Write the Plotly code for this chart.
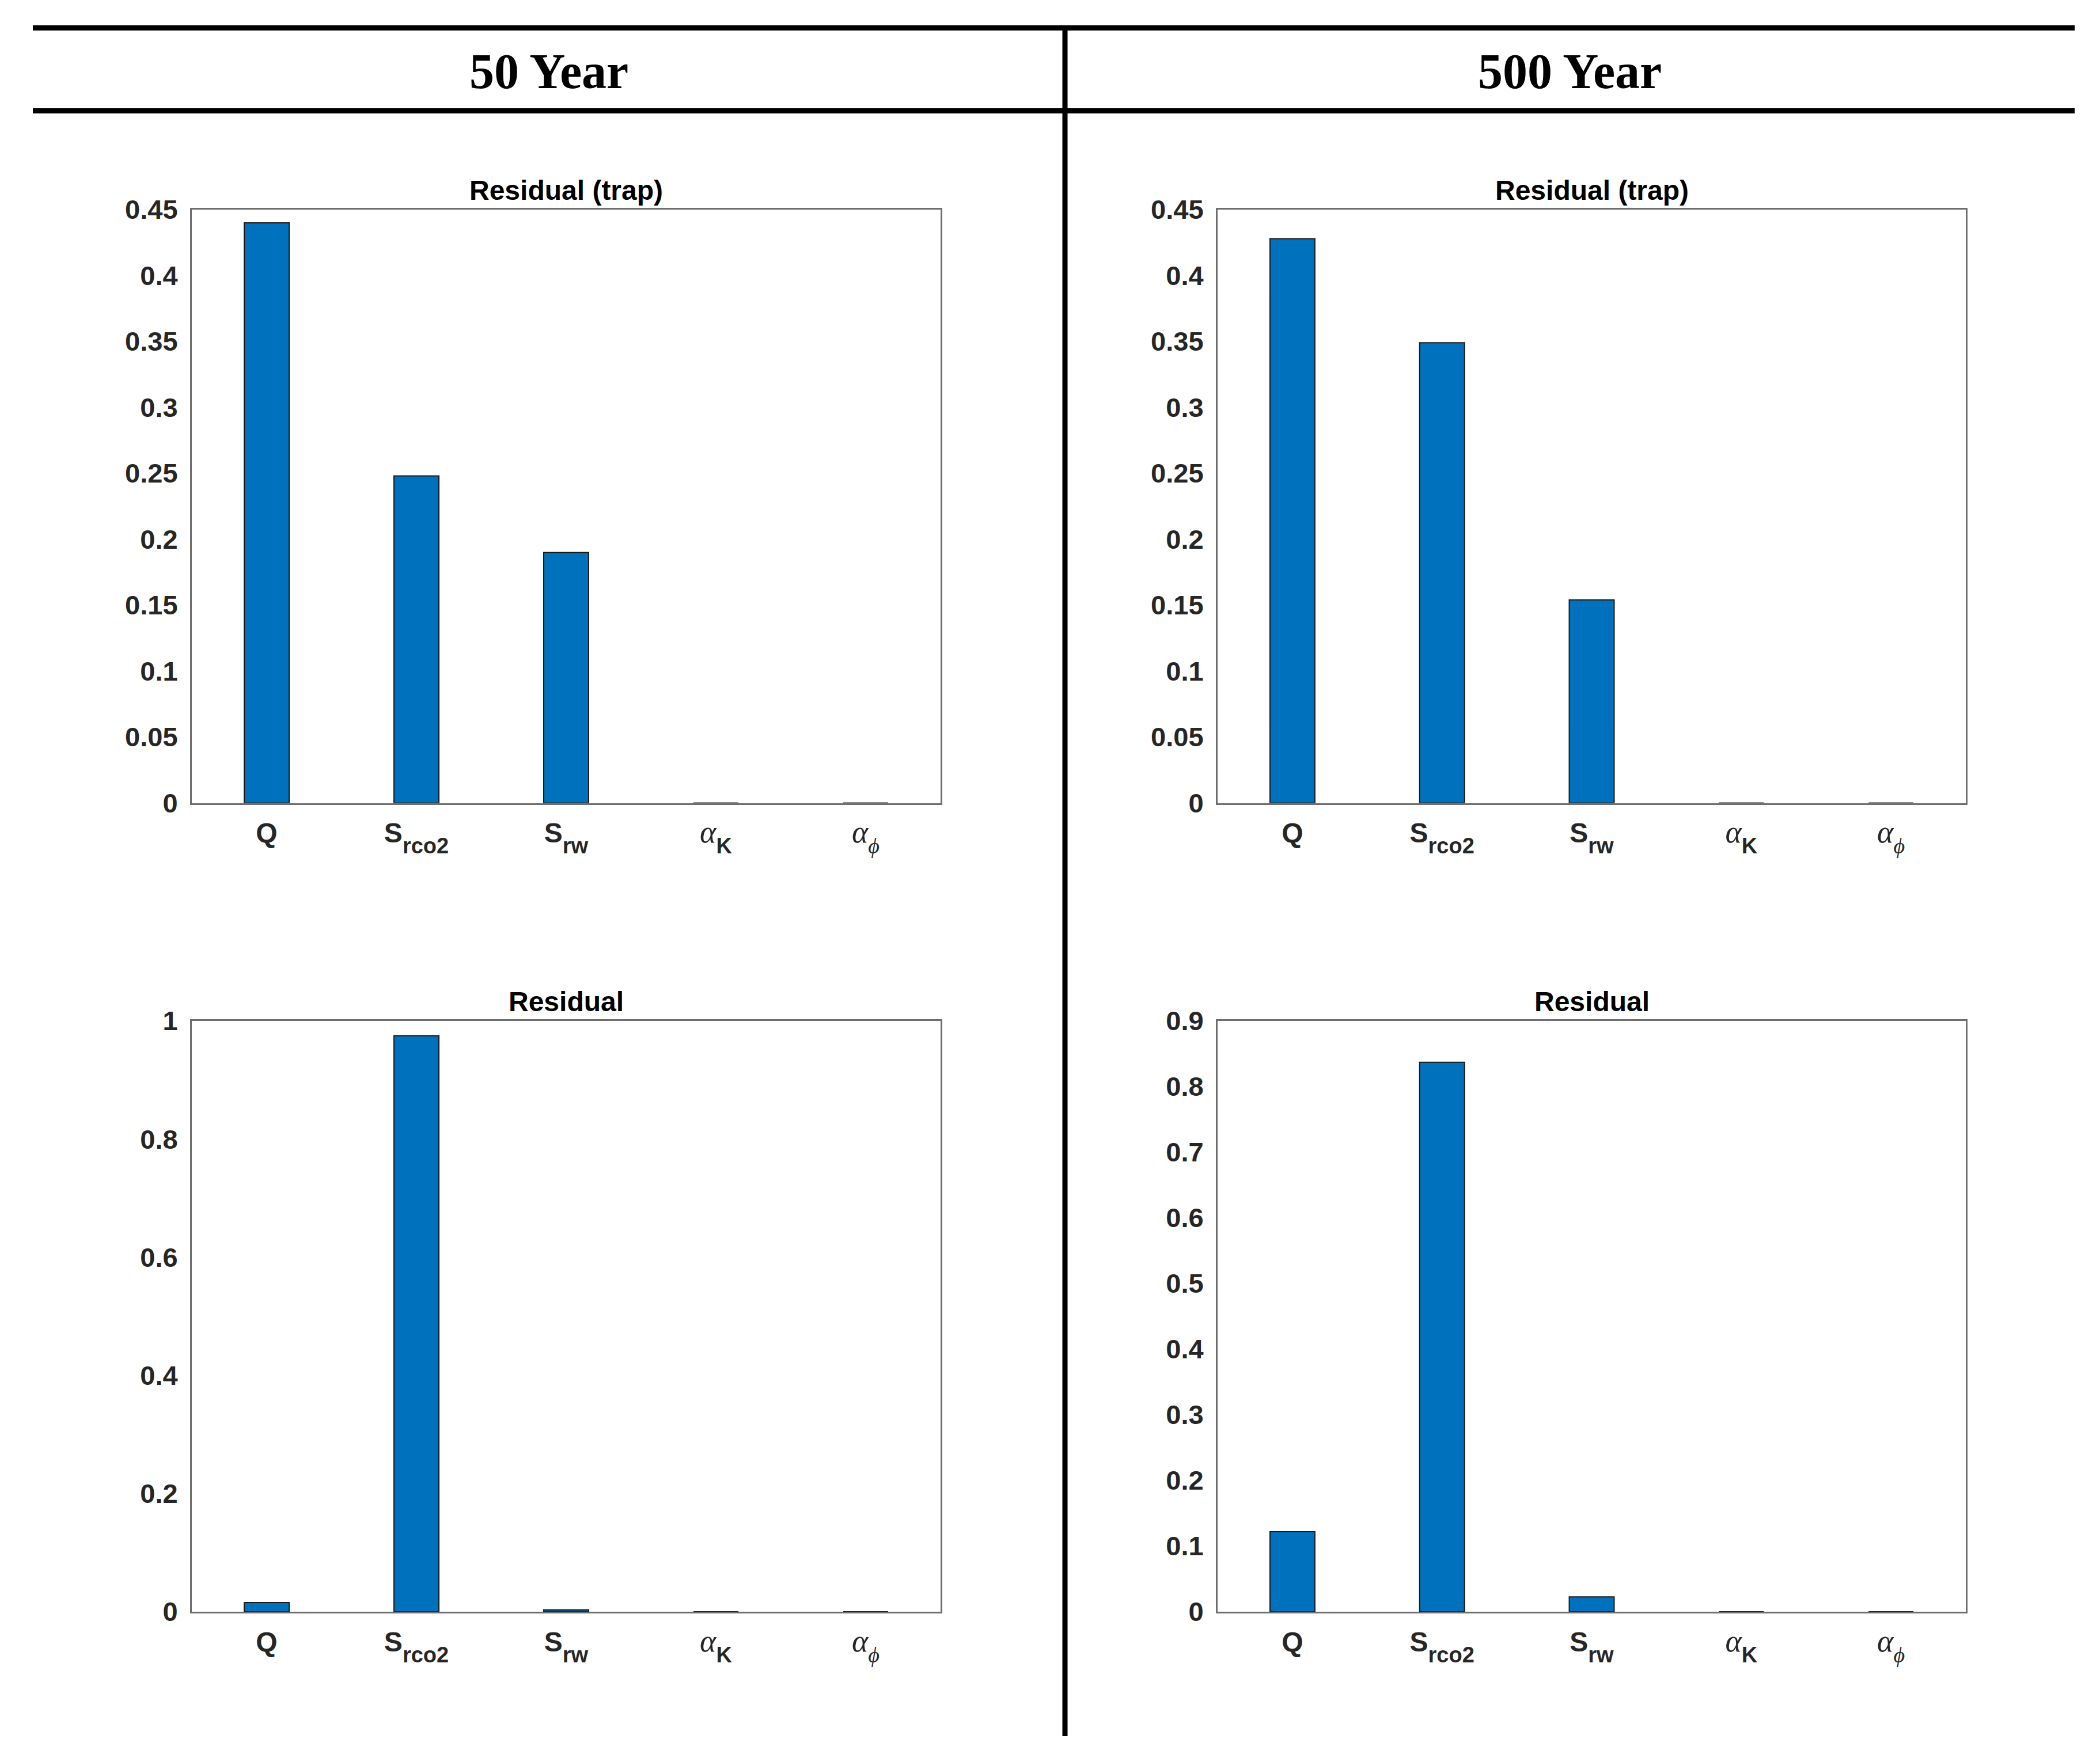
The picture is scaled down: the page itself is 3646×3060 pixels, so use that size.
import plotly.graph_objects as go

# ---------------- data ----------------
categories = ["Q", "S_rco2", "S_rw", "alpha_K", "alpha_phi"]
SERIF = "font-family:'Liberation Serif',serif"
ALPHA = "font-family:'Liberation Serif',serif;font-size:54px"
LOW = "baseline-shift:-9px;font-size:38px"
tick_labels = [
    "<b>Q</b>",
    f"<b>S<sub><span style=\"{LOW}\">rco2</span></sub></b>",
    f"<b>S<sub><span style=\"{LOW}\">rw</span></sub></b>",
    f"<span style=\"{ALPHA}\"><i>α</i></span><sub><span style=\"{LOW}\"><b>K</b></span></sub>",
    f"<span style=\"{ALPHA}\"><i>α</i></span><sub><span style=\"{SERIF};{LOW}\"><i>ϕ</i></span></sub>",
]

residual_trap_50yr = [0.44, 0.248, 0.19, 0.0, 0.0]
residual_trap_500yr = [0.428, 0.349, 0.154, 0.0, 0.0]
residual_50yr = [0.0156, 0.975, 0.0032, 0.0, 0.0]
residual_500yr = [0.122, 0.837, 0.0225, 0.0, 0.0]

column_titles = ["50 Year", "500 Year"]
panel_titles = ["Residual (trap)", "Residual (trap)", "Residual", "Residual"]

yticks_trap = [0, 0.05, 0.1, 0.15, 0.2, 0.25, 0.3, 0.35, 0.4, 0.45]
yticks_res50 = [0, 0.2, 0.4, 0.6, 0.8, 1]
yticks_res500 = [0, 0.1, 0.2, 0.3, 0.4, 0.5, 0.6, 0.7, 0.8, 0.9]

# ---------------- layout geometry ----------------
W, H = 3646, 3060
OFF = 8  # page body margin compensation
BAR_COLOR = "#0072BD"
FRAME = "#6e6e6e"
TXT = "#262626"
SANS = "Liberation Sans, Arial, sans-serif"


def px(x):
    return (x - OFF) / W


def py(y):
    return 1 - (y - OFF) / H


x_left = [px(333), px(1633)]
x_right = [px(2114), px(3413)]
y_top = [py(1394.5), py(364)]
y_bot = [py(2799), py(1773)]

panels = [
    (residual_trap_50yr, x_left, y_top, [0, 0.45], yticks_trap),
    (residual_trap_500yr, x_right, y_top, [0, 0.45], yticks_trap),
    (residual_50yr, x_left, y_bot, [0, 1], yticks_res50),
    (residual_500yr, x_right, y_bot, [0, 0.9], yticks_res500),
]


def fmt(v):
    s = f"{v:.2f}".rstrip("0").rstrip(".")
    return s if s else "0"


fig = go.Figure()
layout = dict(
    width=W,
    height=H,
    autosize=False,
    margin=dict(l=0, r=0, t=0, b=0, pad=0),
    paper_bgcolor="white",
    plot_bgcolor="white",
    showlegend=False,
    font=dict(family=SANS, color=TXT),
)

annotations = []
for i, (vals, xd, yd, yr, yt) in enumerate(panels, start=1):
    sfx = "" if i == 1 else str(i)
    fig.add_trace(
        go.Bar(
            x=list(range(len(categories))),
            y=vals,
            width=0.3,
            marker=dict(color=BAR_COLOR, line=dict(color="#1a1a1a", width=2)),
            xaxis="x" + sfx,
            yaxis="y" + sfx,
        )
    )
    layout["xaxis" + sfx] = dict(
        domain=xd,
        anchor="y" + sfx,
        range=[-0.5, len(categories) - 0.5],
        tickmode="array",
        tickvals=list(range(len(categories))),
        ticktext=tick_labels,
        tickfont=dict(size=48, color=TXT, family=SANS),
        ticks="",
        ticklabelstandoff=8,
        automargin=False,
        showline=True,
        linecolor=FRAME,
        linewidth=3,
        mirror=True,
        showgrid=False,
        zeroline=False,
        fixedrange=True,
    )
    layout["yaxis" + sfx] = dict(
        domain=yd,
        anchor="x" + sfx,
        range=yr,
        tickmode="array",
        tickvals=yt,
        ticktext=[fmt(v) for v in yt],
        tickfont=dict(size=47, color=TXT, weight="bold", family=SANS),
        ticks="",
        ticklabelstandoff=12,
        automargin=False,
        showline=True,
        linecolor=FRAME,
        linewidth=3,
        mirror=True,
        showgrid=False,
        zeroline=False,
        fixedrange=True,
    )
    annotations.append(
        dict(
            text=f"<b>{panel_titles[i - 1]}</b>",
            x=(xd[0] + xd[1]) / 2,
            y=yd[1] + 34 / H,
            xref="paper",
            yref="paper",
            xanchor="center",
            yanchor="middle",
            showarrow=False,
            font=dict(size=48, color="black", family=SANS),
        )
    )

# column headers
for title, xc in zip(column_titles, [px(953), px(2725)]):
    annotations.append(
        dict(
            text=f"<b>{title}</b>",
            x=xc,
            y=py(124),
            xref="paper",
            yref="paper",
            xanchor="center",
            yanchor="middle",
            showarrow=False,
            font=dict(size=86, color="black", family="Liberation Serif, Times New Roman, serif"),
        )
    )

shapes = [
    dict(type="line", xref="paper", yref="paper", x0=px(57), x1=px(3602),
         y0=py(48.5), y1=py(48.5), line=dict(color="black", width=9)),
    dict(type="line", xref="paper", yref="paper", x0=px(57), x1=px(3602),
         y0=py(192.5), y1=py(192.5), line=dict(color="black", width=9)),
    dict(type="line", xref="paper", yref="paper", x0=px(1849), x1=px(1849),
         y0=py(44), y1=py(3015), line=dict(color="black", width=9)),
]

layout["annotations"] = annotations
layout["shapes"] = shapes
fig.update_layout(**layout)
fig.write_html("out.html")
